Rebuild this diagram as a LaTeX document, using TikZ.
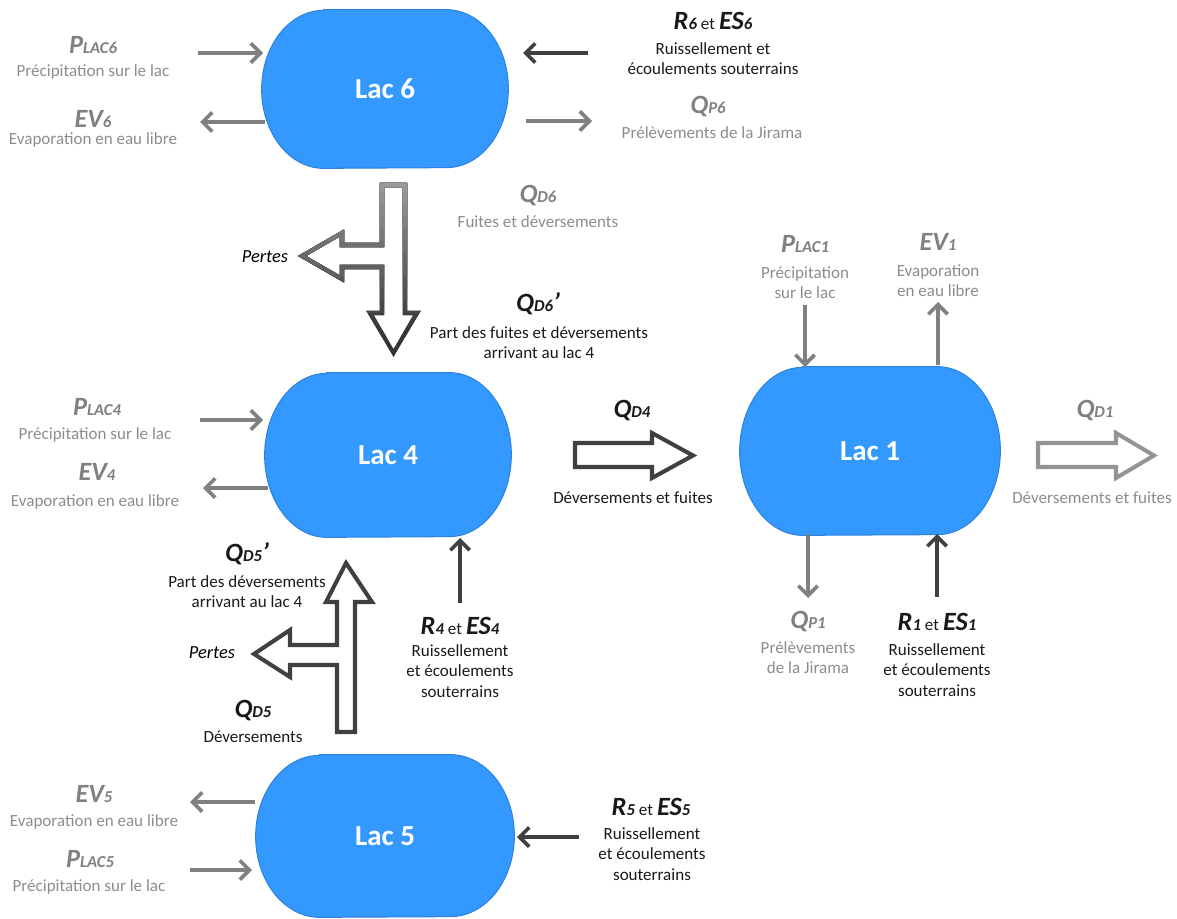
\documentclass[tikz,border=0pt]{standalone}
\usepackage{fontspec}
\setmainfont{Carlito}
\usetikzlibrary{arrows.meta,calc,backgrounds}
\definecolor{lakeblue}{RGB}{51,153,255}
\definecolor{lakeedge}{RGB}{45,130,225}
\definecolor{gtext}{RGB}{140,140,140}
\definecolor{gsym}{RGB}{128,128,128}
\definecolor{darktext}{RGB}{25,25,25}
\definecolor{garrow}{RGB}{128,128,128}
\definecolor{darrow}{RGB}{64,64,64}
\newcommand{\bsym}[2]{{\fontsize{15}{17}\selectfont\bfseries\itshape #1}{\fontsize{9.5}{11}\selectfont\bfseries\itshape #2}}
\newcommand{\etword}{~{\fontsize{9.7}{11}\selectfont et}~}
\newcommand{\primemark}{{\fontsize{15}{17}\selectfont\bfseries\itshape ’}}
\newcommand{\lakeshape}[3]{%
  \filldraw[fill=lakeblue, draw=lakeedge, line width=0.6pt]
    ($(#1.north west)+(#2,0)$) -- ($(#1.north east)-(#2,0)$)
    arc[start angle=90, end angle=-90, x radius=#2, y radius=#3]
    -- ($(#1.south west)+(#2,0)$)
    arc[start angle=270, end angle=90, x radius=#2, y radius=#3] -- cycle;}
\tikzset{
  lake/.style={inner sep=0pt, text=white, font=\fontsize{16.5}{20}\selectfont\bfseries},
  gsymb/.style={text=gsym, inner sep=1pt},
  dsymb/.style={text=darktext, inner sep=1pt},
  gsmall/.style={text=gtext, font=\fontsize{9.7}{11.5}\selectfont, align=center, inner sep=1pt},
  dsmall/.style={text=darktext, font=\fontsize{9.7}{11.5}\selectfont, align=center, inner sep=1pt},
  pertes/.style={text=black, font=\fontsize{10.5}{12}\selectfont\itshape, inner sep=1pt},
  garr/.style={draw=garrow, line width=2.1pt, -{Straight Barb[length=5.5pt,width=11pt]}},
  darr/.style={draw=darrow, line width=2.1pt, -{Straight Barb[length=5.5pt,width=11pt]}},
  blockarrow/.style={line width=2.3pt, fill=white, line join=miter},
}
\begin{document}
\begin{tikzpicture}[x=0.02cm, y=0.02cm]
\useasboundingbox (0,0) rectangle (1177,-919);

% ---------- lakes ----------
\node[lake, minimum width=4.92cm, minimum height=3.16cm] (L6) at (385,-89) {Lac 6};
\node[lake, minimum width=4.92cm, minimum height=3.28cm] (L4) at (388,-455) {Lac 4};
\node[lake, minimum width=5.16cm, minimum height=3.24cm] (L5) at (385,-836) {Lac 5};
\node[lake, minimum width=5.20cm, minimum height=3.36cm] (L1) at (870,-451) {Lac 1};
\begin{scope}[on background layer]
  \lakeshape{L6}{1.24cm}{1.58cm}
  \lakeshape{L4}{1.24cm}{1.64cm}
  \lakeshape{L5}{1.28cm}{1.62cm}
  \lakeshape{L1}{1.26cm}{1.68cm}
\end{scope}

% ---------- Lac 6 labels ----------
\node[gsymb] (sP6) at (93,-45) {\bsym{P}{LAC6}};
\node[gsmall] (tP6) at (93,-72) {Précipitation sur le lac};
\node[gsymb] (sEV6) at (93,-119) {\bsym{EV}{6}};
\node[gsmall] (tEV6) at (93,-140) {Evaporation en eau libre};
\node[dsymb] (sR6) at (713,-21) {\bsym{R}{6}\etword\bsym{ES}{6}};
\node[dsmall] (tR6) at (713,-59) {Ruissellement et\\écoulements souterrains};
\node[gsymb] (sQP6) at (708,-107) {\bsym{Q}{P6}};
\node[gsmall] (tQP6) at (712,-133) {Prélèvements de la Jirama};

\coordinate (a1s) at (198,-53);  \coordinate (a1e) at (263,-53);
\coordinate (a2s) at (265,-122); \coordinate (a2e) at (200,-122);
\coordinate (a3s) at (588,-53);  \coordinate (a3e) at (523,-53);
\coordinate (a4s) at (526,-121); \coordinate (a4e) at (592,-121);
\draw[garr] (a1s) -- (a1e);
\draw[garr] (a2s) -- (a2e);
\draw[darr] (a3s) -- (a3e);
\draw[garr] (a4s) -- (a4e);

% ---------- Q_D6 split arrow ----------
\path[save path=\qdsix] (382,-185) -- (405,-185) -- (405,-313) -- (417,-313) -- (393.5,-353)
  -- (370,-313) -- (382,-313) -- (382,-267) -- (342,-267) -- (342,-279) -- (302,-256)
  -- (342,-233) -- (342,-245) -- (382,-245) -- cycle;
\fill[white, use path=\qdsix];
\draw[line width=2.3pt, line join=miter, draw=black!80, use path=\qdsix];
\foreach \i in {12,11,...,0}{
  \pgfmathsetmacro{\shd}{40+\i*3.2}
  \begin{scope}
    \clip (280,-160) rectangle (440,{-192-\i*12});
    \draw[line width=2.3pt, line join=miter, draw=black!\shd, use path=\qdsix];
  \end{scope}
}
\node[gsymb] (sQD6) at (538,-196) {\bsym{Q}{D6}};
\node[gsmall] (tQD6) at (538,-222) {Fuites et déversements};
\node[dsymb] (sQD6b) at (538,-304) {\bsym{Q}{D6}\primemark};
\node[dsmall] (tQD6b) at (539,-343) {Part des fuites et déversements\\arrivant au lac 4};
\node[pertes] (per6) at (265,-257) {Pertes};

% ---------- Lac 4 labels ----------
\node[gsymb] (sP4) at (97,-407) {\bsym{P}{LAC4}};
\node[gsmall] (tP4) at (95,-435) {Précipitation sur le lac};
\node[gsymb] (sEV4) at (97,-472) {\bsym{EV}{4}};
\node[gsmall] (tEV4) at (95,-502) {Evaporation en eau libre};
\coordinate (a5s) at (200,-420); \coordinate (a5e) at (263,-420);
\coordinate (a6s) at (268,-488); \coordinate (a6e) at (203,-488);
\draw[garr] (a5s) -- (a5e);
\draw[garr] (a6s) -- (a6e);

\node[dsymb] (sR4) at (460,-626) {\bsym{R}{4}\etword\bsym{ES}{4}};
\node[dsmall] (tR4) at (460,-671) {Ruissellement\\et écoulements\\souterrains};
\coordinate (a7s) at (460,-603); \coordinate (a7e) at (460,-538);
\draw[darr] (a7s) -- (a7e);

% ---------- Q_D4 ----------
\draw[blockarrow, draw=darrow] (575,-443) -- (652,-443) -- (652,-433) -- (693,-455.5)
  -- (652,-478) -- (652,-467) -- (575,-467) -- cycle;
\node[dsymb] (sQD4) at (632,-411) {\bsym{Q}{D4}};
\node[dsmall] (tQD4) at (633,-498) {Déversements et fuites};

% ---------- Q_D1 ----------
\draw[blockarrow, draw=black!42] (1038,-443) -- (1116,-443) -- (1116,-433) -- (1154,-455.5)
  -- (1116,-478) -- (1116,-467) -- (1038,-467) -- cycle;
\node[gsymb] (sQD1) at (1095,-411) {\bsym{Q}{D1}};
\node[gsmall] (tQD1) at (1092,-498) {Déversements et fuites};

% ---------- Lac 1 ----------
\node[gsymb] (sP1) at (805,-244) {\bsym{P}{LAC1}};
\node[gsmall] (tP1) at (805,-283) {Précipitation\\sur le lac};
\node[gsymb] (sEV1) at (938,-242) {\bsym{EV}{1}};
\node[gsmall] (tEV1) at (938,-281) {Evaporation\\en eau libre};
\coordinate (a8s) at (805,-305); \coordinate (a8e) at (805,-367);
\coordinate (a9s) at (938,-365); \coordinate (a9e) at (938,-302);
\draw[garr] (a8s) -- (a8e);
\draw[garr] (a9s) -- (a9e);

\node[gsymb] (sQP1) at (808,-622) {\bsym{Q}{P1}};
\node[gsmall] (tQP1) at (808,-658) {Prélèvements\\de la Jirama};
\node[dsymb] (sR1) at (937,-622) {\bsym{R}{1}\etword\bsym{ES}{1}};
\node[dsmall] (tR1) at (937,-670) {Ruissellement\\et écoulements\\souterrains};
\coordinate (a10s) at (808,-534); \coordinate (a10e) at (808,-598);
\coordinate (a11s) at (937,-597); \coordinate (a11e) at (937,-534);
\draw[garr] (a10s) -- (a10e);
\draw[darr] (a11s) -- (a11e);

% ---------- Q_D5 split arrow ----------
\draw[blockarrow, draw=darrow] (337,-732) -- (337,-665) -- (290,-665) -- (290,-677) -- (254,-654)
  -- (290,-630) -- (290,-645) -- (337,-645) -- (337,-602) -- (326,-602) -- (346,-563)
  -- (372,-602) -- (355,-602) -- (355,-732) -- cycle;
\node[dsymb] (sQD5b) at (247,-554) {\bsym{Q}{D5}\primemark};
\node[dsmall] (tQD5b) at (247,-592) {Part des déversements\\arrivant au lac 4};
\node[pertes] (per5) at (212,-653) {Pertes};
\node[dsymb] (sQD5) at (253,-711) {\bsym{Q}{D5}};
\node[dsmall] (tQD5) at (253,-737) {Déversements};

% ---------- Lac 5 ----------
\node[gsymb] (sEV5) at (94,-794) {\bsym{EV}{5}};
\node[gsmall] (tEV5) at (94,-822) {Evaporation en eau libre};
\node[gsymb] (sP5) at (90,-859) {\bsym{P}{LAC5}};
\node[gsmall] (tP5) at (89,-887) {Précipitation sur le lac};
\coordinate (a12s) at (255,-802); \coordinate (a12e) at (190,-802);
\coordinate (a13s) at (190,-870); \coordinate (a13e) at (252,-870);
\draw[garr] (a12s) -- (a12e);
\draw[garr] (a13s) -- (a13e);

\node[dsymb] (sR5) at (651,-807) {\bsym{R}{5}\etword\bsym{ES}{5}};
\node[dsmall] (tR5) at (652,-854) {Ruissellement\\et écoulements\\souterrains};
\coordinate (a14s) at (579,-837); \coordinate (a14e) at (517,-837);
\draw[darr] (a14s) -- (a14e);
\end{tikzpicture}
\end{document}
